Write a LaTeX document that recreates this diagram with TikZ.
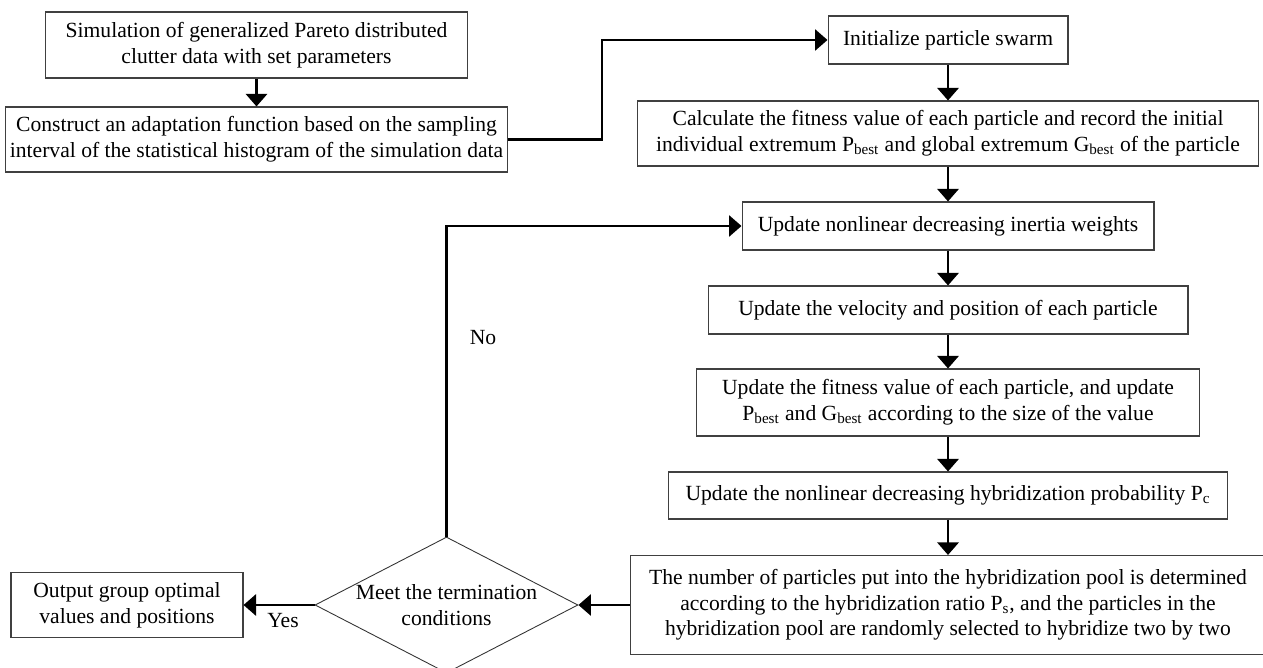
\documentclass[tikz,border=0pt]{standalone}
\usepackage{fontspec}
\setmainfont{Liberation Serif}
\usepackage{tikz}
\usetikzlibrary{positioning}
\usetikzlibrary{shapes.geometric}
\usetikzlibrary{arrows.meta}

\newcommand{\flowfont}{\fontsize{12.3}{14.6}\selectfont}

\tikzset{
	procbox/.style={draw=black!75, line width=0.6pt, rectangle, align=center, inner sep=0pt, font=\flowfont},
	decision/.style={draw=black!80, line width=0.5pt, diamond, aspect=1.93, align=center, inner sep=0pt, font=\flowfont},
	flowarrow/.style={line width=1.6pt, -{Triangle[length=0.25cm, width=0.42cm]}},
}

\begin{document}
\begin{tikzpicture}[x=0.02cm, y=-0.02cm]
		
		\useasboundingbox (0,0) rectangle (1263,668);
		
		% left column
		\node at (256.5,45) [procbox, minimum width=8.46cm, minimum height=1.32cm] (sim) {Simulation of generalized Pareto distributed\\clutter data with set parameters};
		\node at (256.5,139.5) [procbox, minimum width=10.04cm, minimum height=1.30cm] (con) {Construct an adaptation function based on the sampling\\interval of the statistical histogram of the simulation data};
		
		% main column
		\node at (948,40) [procbox, minimum width=4.8cm, minimum height=0.96cm] (init) {Initialize particle swarm};
		\node at (948,133.5) [procbox, minimum width=12.44cm, minimum height=1.30cm] (calc) {Calculate the fitness value of each particle and record the initial\\individual extremum P\textsubscript{best} and global extremum G\textsubscript{best} of the particle};
		\node at (948,226) [procbox, minimum width=8.24cm, minimum height=0.96cm] (inertia) {Update nonlinear decreasing inertia weights};
		\node at (948,310) [procbox, minimum width=9.6cm, minimum height=0.96cm] (vel) {Update the velocity and position of each particle};
		\node at (948,402.5) [procbox, minimum width=10.06cm, minimum height=1.34cm] (fit) {Update the fitness value of each particle, and update\\P\textsubscript{best} and G\textsubscript{best} according to the size of the value};
		\node at (948,495.5) [procbox, minimum width=11.2cm, minimum height=0.94cm] (prob) {Update the nonlinear decreasing hybridization probability P\textsubscript{c}};
		\node at (948,605) [procbox, minimum width=12.72cm, minimum height=1.98cm] (pool) {The number of particles put into the hybridization pool is determined\\according to the hybridization ratio P\textsubscript{s}, and the particles in the\\hybridization pool are randomly selected to hybridize two by two};
		
		% bottom row
		\node at (446.5,605) [decision, minimum width=5.26cm, minimum height=2.72cm] (meet) {Meet the termination\\conditions};
		\node at (127,605) [procbox, minimum width=4.64cm, minimum height=1.30cm] (out) {Output group optimal\\values and positions};
		
		\coordinate (bend1) at (602,139.5);
		
		\draw [flowarrow] (sim.south) -- (con.north);
		\draw [flowarrow] (con.east) -- (bend1) |- (init.west);
		\draw [flowarrow] (init) -- (calc);
		\draw [flowarrow] (calc) -- (inertia);
		\draw [flowarrow] (inertia) -- (vel);
		\draw [flowarrow] (vel) -- (fit);
		\draw [flowarrow] (fit) -- (prob);
		\draw [flowarrow] (prob) -- (pool);
		\draw [flowarrow] (pool.west) -- (meet.east);
		\draw [flowarrow] (meet.west) -- (out.east);
		\draw [flowarrow] (meet.north) |- (inertia.west);
		
		\node at (283,621) [font=\flowfont] (yeslab) {Yes};
		\node at (483,338) [font=\flowfont] (nolab) {No};
		
		\end{tikzpicture}
\end{document}
